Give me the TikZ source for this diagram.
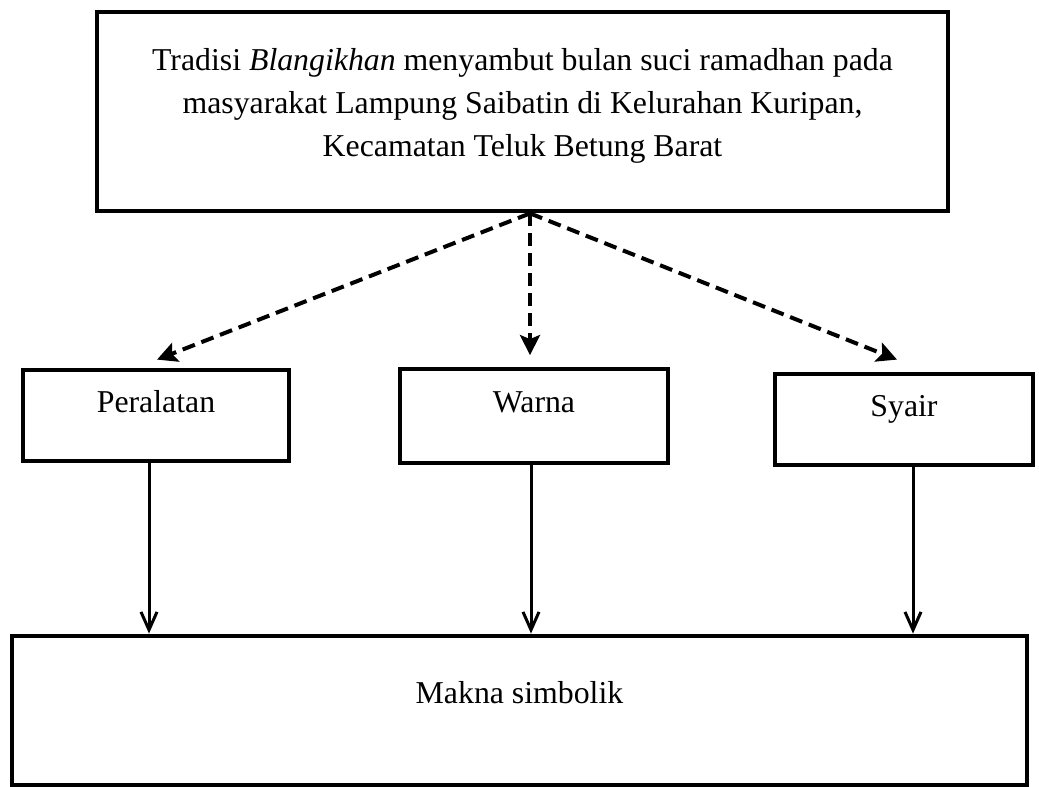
\documentclass[tikz,border=0pt]{standalone}
\usepackage{fontspec}
\setmainfont{Liberation Serif}
\usetikzlibrary{arrows.meta}

\begin{document}
\begin{tikzpicture}[x=0.5pt,y=-0.5pt,
    kotak/.style={draw,line width=2.4pt,inner sep=0pt,font=\fontsize{15.9}{21.5}\selectfont},
    garis/.style={text height=10.5pt,text depth=14pt},
    dasharrow/.style={line width=2pt,dash pattern=on 6.5pt off 3.5pt,-{Stealth[length=10pt,width=10pt,inset=2pt]}},
    linearrow/.style={line width=1.5pt,-{Straight Barb[length=9pt,width=8pt]}}]
  \useasboundingbox (0,0) rectangle (1039,787);
  % kotak atas
  \node[kotak,minimum width=425.5pt,minimum height=99.5pt,align=center] (tradisi) at (522.5,111.5)
    {Tradisi \textit{Blangikhan} menyambut bulan suci ramadhan pada\\
     masyarakat Lampung Saibatin di Kelurahan Kuripan,\\
     Kecamatan Teluk Betung Barat\rule[-9pt]{0pt}{9pt}};
  % kotak tengah
  \node[kotak,garis,minimum width=133pt,minimum height=45.5pt] (alat) at (156,415.5) {Peralatan};
  \node[kotak,garis,minimum width=134pt,minimum height=47pt] (warna) at (534,416) {Warna};
  \node[kotak,garis,minimum width=129pt,minimum height=45.5pt] (syair) at (904,419.5) {Syair};
  % kotak bawah
  \node[kotak,text height=10.5pt,text depth=17.5pt,minimum width=507.5pt,minimum height=74.5pt] (makna) at (519.5,710.5) {Makna simbolik};

  \coordinate (pusat) at ([xshift=3.75pt]tradisi.south);
  \draw[dasharrow] (pusat) -- ([xshift=0.5pt,yshift=4pt]alat.north);
  \draw[dasharrow] (pusat) -- ([yshift=5.75pt]pusat |- warna.north);
  \draw[dasharrow] (pusat) -- ([xshift=-3.5pt,yshift=6pt]syair.north);

  \draw[linearrow] ([xshift=-3.5pt]alat.south) -- ([xshift=-3.5pt]alat.south |- makna.north);
  \draw[linearrow] ([xshift=-1.5pt]warna.south) -- ([xshift=-1.5pt]warna.south |- makna.north);
  \draw[linearrow] ([xshift=4.5pt]syair.south) -- ([xshift=4.5pt]syair.south |- makna.north);
\end{tikzpicture}
\end{document}
